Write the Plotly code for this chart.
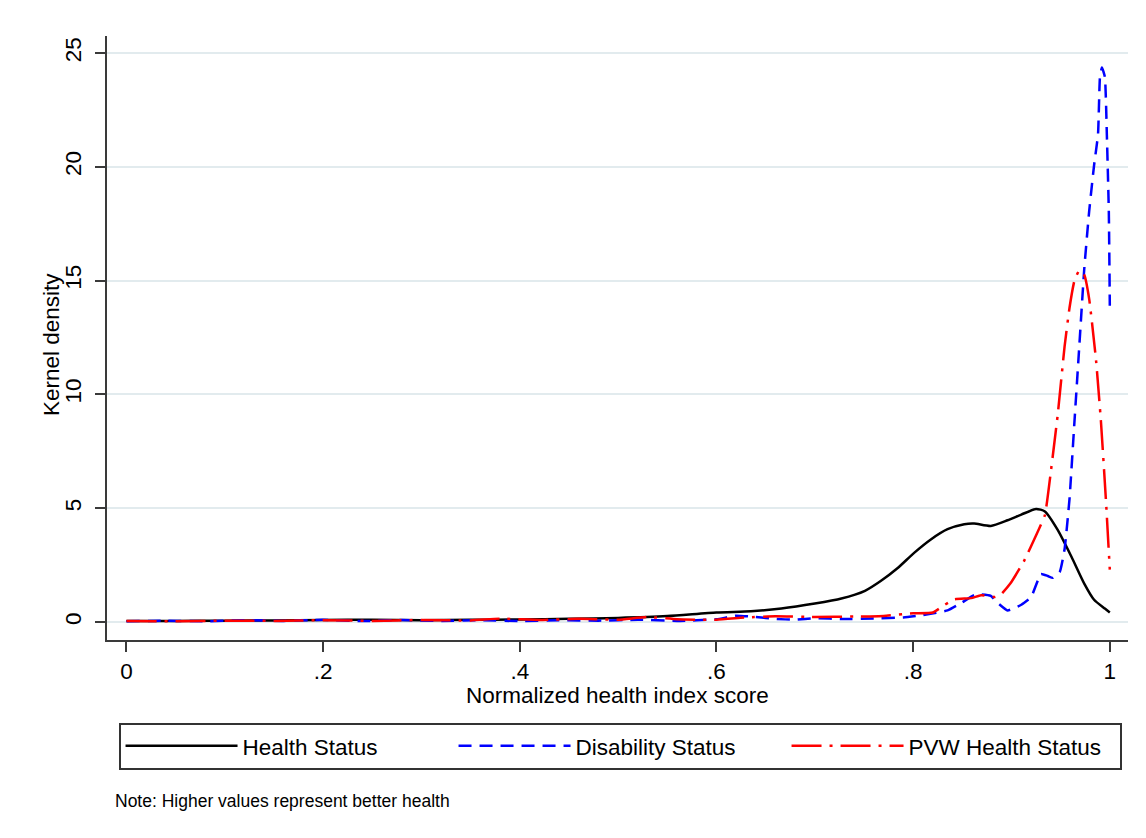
import plotly.graph_objects as go

# Kernel density estimates of three normalized health indices
health_x = [0.0, 0.05, 0.10, 0.15, 0.20, 0.25, 0.30, 0.35, 0.40, 0.45, 0.50, 0.55,
            0.60, 0.635, 0.666, 0.70, 0.727, 0.751, 0.767, 0.784, 0.801, 0.818, 0.835,
            0.852, 0.862, 0.879, 0.896, 0.910, 0.925, 0.934, 0.947, 0.961, 0.974,
            0.984, 0.995, 1.0]
health_y = [0.04, 0.05, 0.06, 0.07, 0.09, 0.10, 0.08, 0.10, 0.11, 0.14, 0.18, 0.26,
            0.42, 0.47, 0.59, 0.81, 1.03, 1.37, 1.80, 2.36, 3.04, 3.63, 4.08,
            4.30, 4.33, 4.22, 4.47, 4.72, 4.97, 4.86, 4.05, 2.87, 1.69,
            0.98, 0.59, 0.42]

disab_x = [0.0, 0.04, 0.08, 0.12, 0.16, 0.20, 0.24, 0.28, 0.32, 0.36, 0.40, 0.44,
           0.48, 0.52, 0.56, 0.60, 0.62, 0.64, 0.66, 0.68, 0.70, 0.73, 0.76, 0.79,
           0.81, 0.835, 0.849, 0.862, 0.869, 0.879, 0.886, 0.896, 0.910, 0.920,
           0.930, 0.937, 0.942, 0.949, 0.954, 0.959, 0.964, 0.969, 0.974, 0.979,
           0.984, 0.988, 0.990, 0.992, 0.995, 0.997, 0.999, 1.0]
disab_y = [0.03, 0.06, 0.03, 0.08, 0.05, 0.10, 0.04, 0.09, 0.05, 0.08, 0.04, 0.08,
           0.06, 0.10, 0.05, 0.12, 0.28, 0.22, 0.14, 0.10, 0.17, 0.13, 0.15, 0.20,
           0.30, 0.51, 0.84, 1.18, 1.21, 1.15, 0.84, 0.51, 0.76, 1.10,
           2.11, 2.02, 1.94, 2.19, 3.20, 5.40, 8.77, 12.14, 15.51, 18.04,
           20.07, 21.42, 23.95, 24.37, 23.95, 21.40, 18.04, 13.90]

pvw_x = [0.0, 0.05, 0.10, 0.15, 0.20, 0.25, 0.30, 0.35, 0.38, 0.42, 0.46, 0.50,
         0.53, 0.56, 0.60, 0.63, 0.66, 0.70, 0.74, 0.77, 0.80, 0.82, 0.832, 0.842,
         0.859, 0.869, 0.883, 0.889, 0.899, 0.913, 0.926, 0.934, 0.940, 0.947,
         0.954, 0.959, 0.964, 0.969, 0.974, 0.979, 0.986, 0.991, 0.996, 1.0]
pvw_y = [0.05, 0.03, 0.06, 0.05, 0.08, 0.05, 0.09, 0.07, 0.15, 0.09, 0.14, 0.10,
         0.22, 0.12, 0.10, 0.20, 0.25, 0.22, 0.24, 0.27, 0.38, 0.42, 0.75, 1.00,
         1.05, 1.18, 1.10, 1.20, 1.70, 2.70, 3.90, 4.70, 6.60, 9.10,
         12.10, 13.80, 15.00, 15.45, 15.25, 14.20, 11.50, 8.80, 5.40, 2.30]

series_names = ["Health Status", "Disability Status", "PVW Health Status"]

x_ticks = [0, 0.2, 0.4, 0.6, 0.8, 1]
x_tick_labels = ["0", ".2", ".4", ".6", ".8", "1"]
y_ticks = [0, 5, 10, 15, 20, 25]

FONT = "Liberation Sans, Arial, sans-serif"
TXT = 22.5

fig = go.Figure()
fig.add_trace(go.Scatter(x=health_x, y=health_y, mode="lines", name=series_names[0],
                         line=dict(color="black", width=2.5, shape="spline", smoothing=0.6)))
fig.add_trace(go.Scatter(x=disab_x, y=disab_y, mode="lines", name=series_names[1],
                         line=dict(color="#0000ff", width=2.5, dash="13px,8px",
                                   shape="spline", smoothing=0.4)))
fig.add_trace(go.Scatter(x=pvw_x, y=pvw_y, mode="lines", name=series_names[2],
                         line=dict(color="#ff0000", width=2.5, dash="30px,8px,3px,8px",
                                   shape="spline", smoothing=0.4)))

axis_common = dict(
    showline=True, linecolor="#3a3a3a", linewidth=1.8,
    ticks="outside", ticklen=10, tickwidth=1.6, tickcolor="#3a3a3a",
    tickfont=dict(family=FONT, size=TXT, color="black"),
    zeroline=False, mirror=False,
)

fig.update_xaxes(range=[-0.0198, 1.0185], tickvals=x_ticks, ticktext=x_tick_labels,
                 showgrid=False, **axis_common)
fig.update_yaxes(range=[-0.79, 25.75], tickvals=y_ticks, tickangle=-90,
                 ticklabelstandoff=5,
                 showgrid=True, gridcolor="#e2ebee", gridwidth=1.5, **axis_common)

fig.add_annotation(text="Normalized health index score", xref="paper", yref="paper",
                   x=0.5, y=-0.0927, xanchor="center", yanchor="middle", showarrow=False,
                   font=dict(family=FONT, size=TXT, color="black"))
fig.add_annotation(text="Kernel density", xref="paper", yref="paper",
                   x=-0.0549, y=0.49, xanchor="center", yanchor="middle", textangle=-90,
                   showarrow=False, font=dict(family=FONT, size=TXT, color="black"))
fig.add_annotation(text="Note: Higher values represent better health", xref="paper",
                   yref="paper", x=0.0059, y=-0.2666, xanchor="left", yanchor="middle",
                   showarrow=False, font=dict(family=FONT, size=17.5, color="black"))

fig.update_layout(
    width=1146, height=838,
    margin=dict(l=107, r=18, t=36, b=198),
    paper_bgcolor="white", plot_bgcolor="white",
    showlegend=True,
    legend=dict(orientation="h", x=0.0113, y=-0.137, xanchor="left", yanchor="top",
                bgcolor="white", bordercolor="#333333", borderwidth=2,
                font=dict(family=FONT, size=TXT, color="black"),
                itemwidth=112, entrywidth=206, entrywidthmode="pixels",
                traceorder="normal"),
)

fig.write_html("out.html")
